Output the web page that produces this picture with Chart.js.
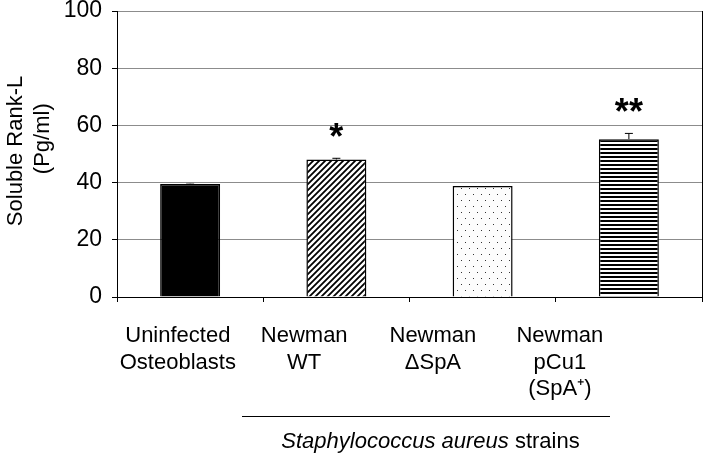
<!DOCTYPE html>
<html>
<head>
<meta charset="utf-8">
<script src="https://cdn.jsdelivr.net/npm/chart.js@4"></script>
<style>
  html, body { margin: 0; padding: 0; background: #fff; }
  #wrap { width: 710px; height: 464px; }
</style>
</head>
<body>
<div id="wrap"><canvas id="rankChart"></canvas></div>
<script>
// data
const categories = [
    ["Uninfected", "Osteoblasts"],
    ["Newman", "WT"],
    ["Newman", "\u0394SpA"],
    ["Newman", "pCu1", "(SpA\u207A)"]
];
const rankL = [39.5, 48.1, 38.8, 55.2];
const rankLErr = [0.3, 0.4, 0, 2.0];
const significance = ["", "*", "", "**"];
const yTicks = [0, 20, 40, 60, 80, 100];
const groupLabel = ["Staphylococcus aureus", " strains"];

const FONT = "'Liberation Sans', Arial, sans-serif";

function makePattern(w, h, draw) {
    let c = document.createElement("canvas");
    c.width = w;
    c.height = h;
    let g = c.getContext("2d");
    draw(g, w, h);
    return document.createElement("canvas").getContext("2d").createPattern(c, "repeat");
}

// fills: solid, diagonal hatch, sparse dots, horizontal stripes
const diagFill = makePattern(6, 6, (g, w, h) => {
    g.fillStyle = "#fff";
    g.fillRect(0, 0, w, h);
    g.strokeStyle = "#000";
    g.lineWidth = 1.8;
    g.beginPath();
    g.moveTo(-1, h + 1); g.lineTo(w + 1, -1);
    g.moveTo(-1, 1); g.lineTo(1, -1);
    g.moveTo(w - 1, h + 1); g.lineTo(w + 1, h - 1);
    g.stroke();
});
const dotFill = makePattern(8, 12, (g, w, h) => {
    g.fillStyle = "#fcfcfc";
    g.fillRect(0, 0, w, h);
    g.fillStyle = "#333";
    g.fillRect(1, 2, 1, 1);
    g.fillRect(5, 8, 1, 1);
});
const stripeFill = makePattern(4, 4, (g, w, h) => {
    g.fillStyle = "#fff";
    g.fillRect(0, 0, w, h);
    g.fillStyle = "#000";
    g.fillRect(0, 0, w, 2);
});

const barFills = ["#000", diagFill, dotFill, stripeFill];

// error bars (upper only) and significance stars
const errorBarPlugin = {
    id: "errorBars",
    afterDatasetsDraw(chart) {
        let ctx = chart.ctx;
        let y = chart.scales.y;
        let meta = chart.getDatasetMeta(0);
        ctx.save();
        meta.data.forEach((bar, i) => {
            let top = y.getPixelForValue(rankL[i] + rankLErr[i]);
            if (rankLErr[i] > 0) {
                ctx.strokeStyle = i === 0 ? "#777" : "#000";
                ctx.lineWidth = 1;
                ctx.beginPath();
                ctx.moveTo(bar.x, bar.y);
                ctx.lineTo(bar.x, top);
                ctx.moveTo(bar.x - 4, top);
                ctx.lineTo(bar.x + 4, top);
                ctx.stroke();
            }
            if (significance[i]) {
                ctx.fillStyle = "#000";
                ctx.font = "bold 36px " + FONT;
                ctx.textAlign = "center";
                ctx.textBaseline = "alphabetic";
                ctx.fillText(significance[i], bar.x, top - 9);
            }
        });
        ctx.restore();
    }
};

// category labels sit left of their bars in the original, plus the strain bracket
const labelPlugin = {
    id: "categoryLabels",
    afterDraw(chart) {
        let ctx = chart.ctx;
        let area = chart.chartArea;
        let labelX = [0.104, 0.32, 0.54, 0.757];
        ctx.save();
        ctx.fillStyle = "#000";
        ctx.font = "22px " + FONT;
        ctx.textAlign = "center";
        ctx.textBaseline = "alphabetic";
        categories.forEach((lines, i) => {
            let x = area.left + labelX[i] * (area.right - area.left);
            lines.forEach((line, k) => ctx.fillText(line, x, area.bottom + 45 + k * 26.5));
        });

        // bracket under the three S. aureus strains
        ctx.strokeStyle = "#000";
        ctx.lineWidth = 1;
        ctx.beginPath();
        ctx.moveTo(242, area.bottom + 119.5);
        ctx.lineTo(610, area.bottom + 119.5);
        ctx.stroke();

        let italic = "italic 22px " + FONT;
        let upright = "22px " + FONT;
        ctx.font = italic;
        let w1 = ctx.measureText(groupLabel[0]).width;
        ctx.font = upright;
        let w2 = ctx.measureText(groupLabel[1]).width;
        let startX = 430.5 - (w1 + w2) / 2;
        ctx.textAlign = "left";
        ctx.font = italic;
        ctx.fillText(groupLabel[0], startX, area.bottom + 151);
        ctx.font = upright;
        ctx.fillText(groupLabel[1], startX + w1, area.bottom + 151);
        ctx.restore();
    }
};

const ctx = document.getElementById("rankChart").getContext("2d");
new Chart(ctx, {
    type: "bar",
    data: {
        labels: categories.map(c => c.join(" ")),
        datasets: [{
            label: "Soluble Rank-L",
            data: rankL,
            backgroundColor: barFills,
            borderColor: "#000",
            borderWidth: 1.5,
            categoryPercentage: 1,
            barPercentage: 0.41,
        }]
    },
    options: {
        responsive: true,
        maintainAspectRatio: false,
        animation: false,
        layout: { padding: { top: 11, right: 8, left: 0, bottom: 0 } },
        plugins: {
            legend: { display: false },
            tooltip: { enabled: false },
        },
        scales: {
            x: {
                type: "category",
                ticks: { display: false },
                grid: {
                    offset: true,
                    drawOnChartArea: false,
                    drawTicks: true,
                    tickLength: 5,
                    tickColor: "#000",
                },
                border: { color: "#000", width: 1 },
                afterFit: (scale) => { scale.height = 167; },
            },
            y: {
                min: 0,
                max: 100,
                afterBuildTicks: (scale) => { scale.ticks = yTicks.map(v => ({ value: v })); },
                ticks: {
                    color: "#000",
                    font: { family: FONT, size: 23, lineHeight: 1 },
                    padding: 10,
                },
                grid: {
                    color: "#8c8c8c",
                    lineWidth: 1,
                    tickLength: 5,
                    tickColor: "#000",
                },
                border: { color: "#000", width: 1 },
                title: {
                    display: true,
                    text: [" Soluble Rank-L", "     (Pg/ml)"],
                    color: "#000",
                    font: { family: FONT, size: 22, lineHeight: 1.25 },
                    padding: { top: 2, bottom: 0 },
                },
                afterFit: (scale) => {
                    scale.width = 117;
                    scale.paddingTop = 0;
                    scale.paddingBottom = 0;
                },
            },
            yRight: {
                position: "right",
                min: 0,
                max: 100,
                ticks: { display: false },
                grid: { display: false, drawTicks: false },
                border: { display: true, color: "#000", width: 1 },
                afterFit: (scale) => {
                    scale.width = 0;
                    scale.paddingTop = 0;
                    scale.paddingBottom = 0;
                },
            }
        }
    },
    plugins: [errorBarPlugin, labelPlugin],
});
</script>
</body>
</html>
